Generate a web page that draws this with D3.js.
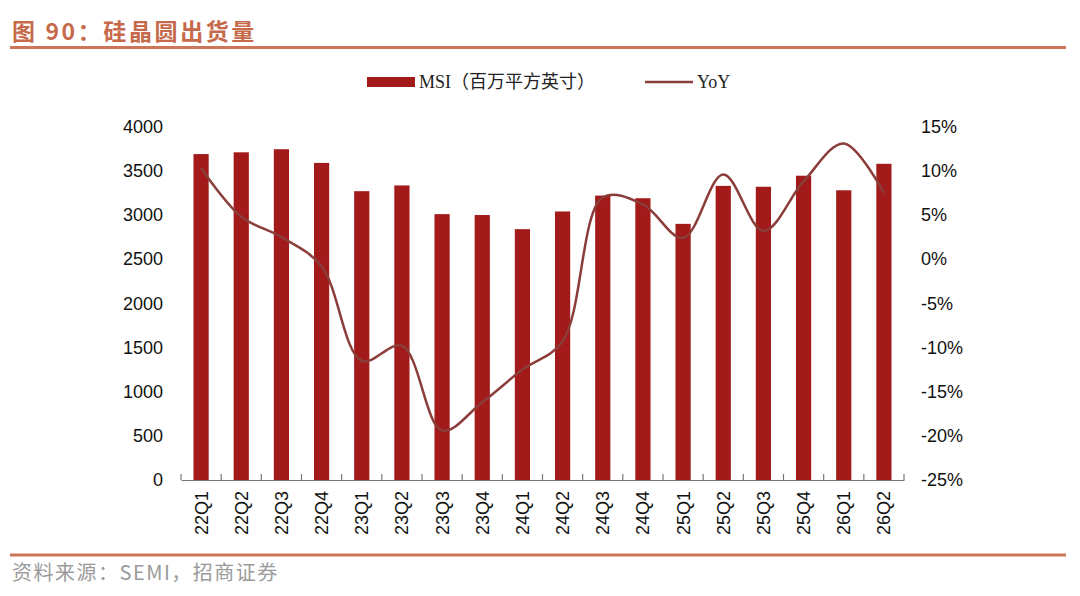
<!DOCTYPE html>
<html>
<head>
<meta charset="utf-8">
<script src="https://cdn.jsdelivr.net/npm/d3@7"></script>
<style>
  body { margin: 0; background: #fff; }
  svg { display: block; }
</style>
</head>
<body>
<svg id="chart" width="1080" height="596"></svg>
<script>
// quarters, shipments (MSI) and yoy (%)
var quarters = ["22Q1","22Q2","22Q3","22Q4","23Q1","23Q2","23Q3","23Q4","24Q1","24Q2","24Q3","24Q4","25Q1","25Q2","25Q3","25Q4","26Q1","26Q2"];
var msi = [3690,3710,3745,3590,3270,3335,3010,3000,2840,3040,3220,3190,2900,3330,3320,3445,3280,3580];
var yoy = [10.3,4.8,2.5,-0.8,-11.5,-9.8,-19.4,-16.2,-12.5,-9.3,7.0,6.2,2.4,9.6,3.2,8.8,13.1,7.5];
var leftTicks = [0,500,1000,1500,2000,2500,3000,3500,4000];
var rightTicks = [-25,-20,-15,-10,-5,0,5,10,15];

var barColor = "#A21A19";
var lineColor = "#8B3D3A";
var accent = "#CD7558";
var tickFont = "'Liberation Sans', Arial, sans-serif";

var svg = d3.select("#chart");

// title
svg.append("text")
  .attr("x", 12).attr("y", 40)
  .attr("font-family", "'Noto Sans CJK SC', sans-serif")
  .attr("font-size", 23).attr("font-weight", "bold")
  .attr("letter-spacing", 2.6)
  .attr("fill", "#C66A4B")
  .text("图 90：硅晶圆出货量");
svg.append("line")
  .attr("x1", 10).attr("x2", 1066).attr("y1", 47.5).attr("y2", 47.5)
  .attr("stroke", accent).attr("stroke-width", 3);

// footer
svg.append("line")
  .attr("x1", 10).attr("x2", 1066).attr("y1", 555).attr("y2", 555)
  .attr("stroke", accent).attr("stroke-width", 3);
svg.append("text")
  .attr("x", 12).attr("y", 580)
  .attr("font-family", "'Noto Sans CJK SC', sans-serif")
  .attr("font-size", 20).attr("fill", "#9a9a9a")
  .attr("letter-spacing", 1.5)
  .text("资料来源：SEMI，招商证券");

var plotL = 181, plotR = 904, plotT = 126.7, plotB = 480;

var xc = d3.scaleBand().domain(quarters).range([plotL, plotR]);
var yL = d3.scaleLinear().domain([0, 4000]).range([plotB, plotT]);
var yR = d3.scaleLinear().domain([-25, 15]).range([plotB, plotT]);

// bars
svg.append("g").selectAll("rect")
  .data(quarters)
  .enter().append("rect")
  .attr("x", function (d) { return xc(d) + xc.bandwidth() / 2 - 7.6; })
  .attr("width", 15.2)
  .attr("y", function (d, i) { return yL(msi[i]); })
  .attr("height", function (d, i) { return plotB - yL(msi[i]); })
  .attr("fill", barColor);

// yoy line
var line = d3.line()
  .x(function (d, i) { return xc(quarters[i]) + xc.bandwidth() / 2; })
  .y(function (d) { return yR(d); })
  .curve(d3.curveCatmullRom.alpha(0.5));
svg.append("path")
  .datum(yoy)
  .attr("d", line)
  .attr("fill", "none")
  .attr("stroke", lineColor)
  .attr("stroke-width", 2.5);

// x axis
var xAxis = d3.axisBottom(xc).tickSize(0).tickPadding(0);
var gx = svg.append("g").attr("transform", "translate(0," + plotB + ")").call(xAxis);
gx.select(".domain").attr("stroke", "#777").attr("stroke-width", 1.2);
gx.selectAll(".tick text")
  .attr("transform", "rotate(-90)")
  .attr("x", -11).attr("y", 0).attr("dy", "0.36em")
  .attr("text-anchor", "end")
  .attr("font-family", tickFont)
  .attr("font-size", 18).attr("fill", "#111");
svg.append("g").selectAll("line")
  .data(quarters.concat(["end"]))
  .enter().append("line")
  .attr("x1", function (d, i) { return plotL + i * xc.step(); })
  .attr("x2", function (d, i) { return plotL + i * xc.step(); })
  .attr("y1", plotB - 6).attr("y2", plotB)
  .attr("stroke", "#777").attr("stroke-width", 1.2);

// left axis
var gl = svg.append("g").attr("transform", "translate(" + (plotL - 18) + ",0)")
  .call(d3.axisLeft(yL).tickValues(leftTicks).tickSize(0).tickPadding(0)
    .tickFormat(function (d) { return String(d); }));
gl.select(".domain").remove();
gl.selectAll(".tick text")
  .attr("font-family", tickFont)
  .attr("font-size", 18).attr("fill", "#111");

// right axis
var gr = svg.append("g").attr("transform", "translate(" + (plotR + 17) + ",0)")
  .call(d3.axisRight(yR).tickValues(rightTicks).tickSize(0).tickPadding(0)
    .tickFormat(function (d) { return d + "%"; }));
gr.select(".domain").remove();
gr.selectAll(".tick text")
  .attr("font-family", tickFont)
  .attr("font-size", 18).attr("fill", "#111");

// legend
var lg = svg.append("g").attr("font-family", "'Liberation Serif', 'Noto Sans CJK SC', serif")
  .attr("font-size", 18).attr("fill", "#222");
lg.append("rect").attr("x", 367).attr("y", 77).attr("width", 48).attr("height", 10).attr("fill", barColor);
lg.append("text").attr("x", 419).attr("y", 88).text("MSI（百万平方英寸）");
lg.append("line").attr("x1", 645).attr("x2", 693).attr("y1", 82).attr("y2", 82)
  .attr("stroke", lineColor).attr("stroke-width", 2.5);
lg.append("text").attr("x", 697).attr("y", 88).text("YoY");
</script>
</body>
</html>
